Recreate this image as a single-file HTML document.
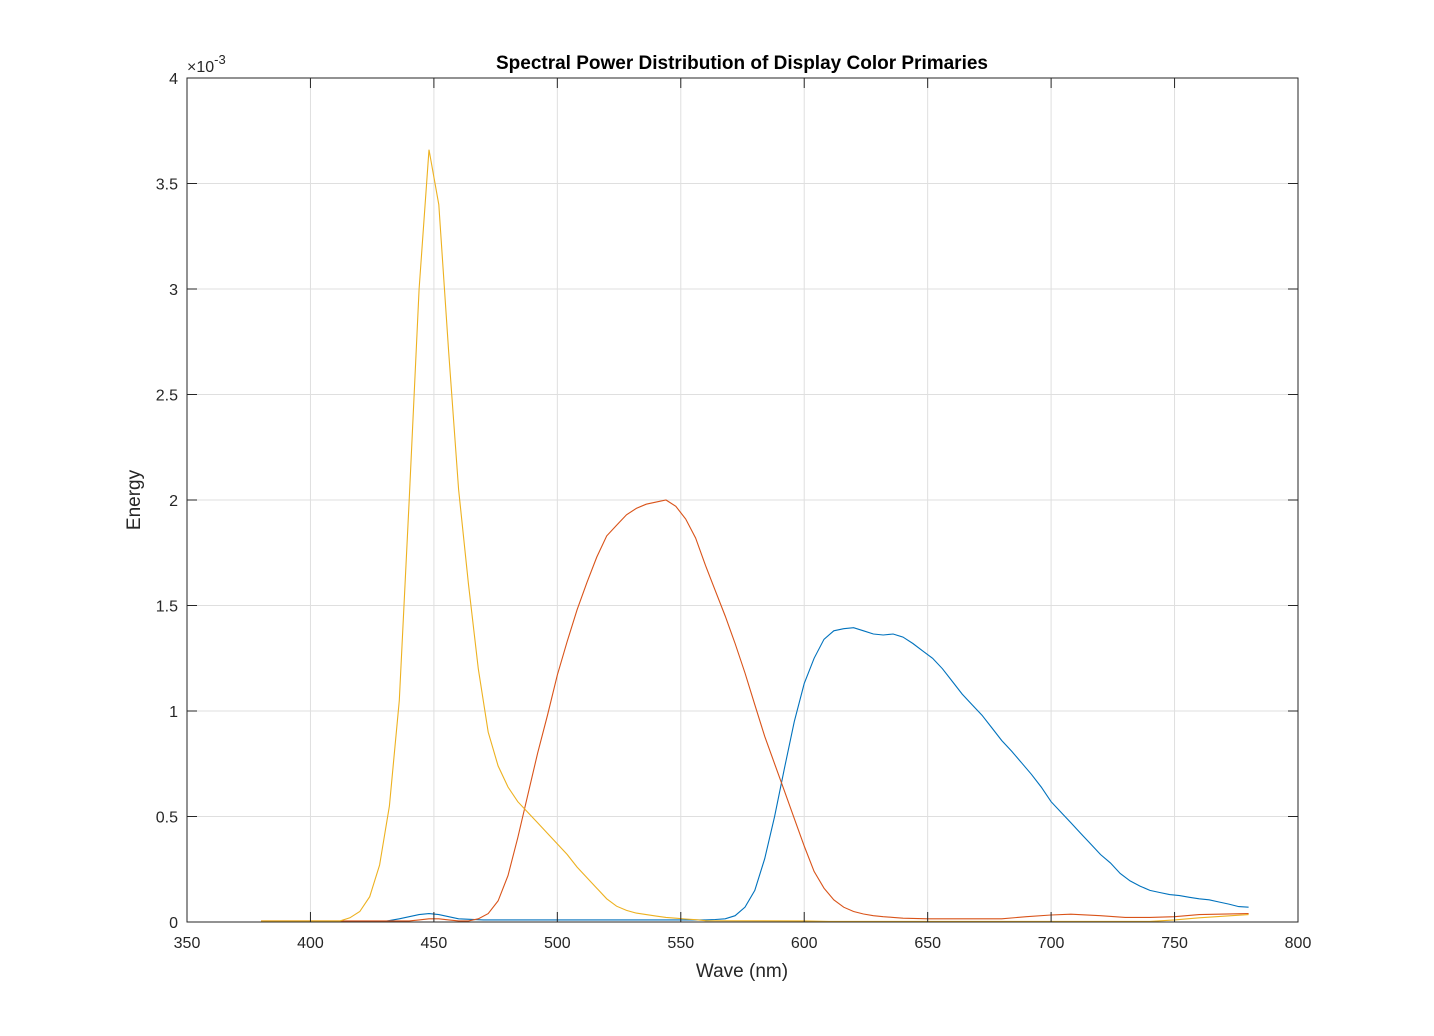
<!DOCTYPE html>
<html><head><meta charset="utf-8"><style>
body{margin:0;background:#fff;}
svg{display:block;font-family:"Liberation Sans",sans-serif;}
</style></head><body>
<svg id="chart" width="1434" height="1036" viewBox="0 0 1434 1036">
<rect x="0" y="0" width="1434" height="1036" fill="#fff"/>
<g id="grid"></g>
<g id="series"></g>
<g id="axes"></g>
<text x="742" y="69" text-anchor="middle" font-size="19" font-weight="bold" fill="#000">Spectral Power Distribution of Display Color Primaries</text>
<text x="742" y="977" text-anchor="middle" font-size="19" fill="#262626">Wave (nm)</text>
<text transform="translate(140,500) rotate(-90)" text-anchor="middle" font-size="19" fill="#262626">Energy</text>
<text x="187" y="72" font-size="16" fill="#262626">×10<tspan dy="-8" font-size="13">-3</tspan></text>
</svg>
<script>
const xTicks=[350,400,450,500,550,600,650,700,750,800];
const yTicks=[0,0.5,1,1.5,2,2.5,3,3.5,4];
const yTickLabels=["0","0.5","1","1.5","2","2.5","3","3.5","4"];
const blueWaves=[380,430,436,440,444,448,452,456,460,470,560,564,568,572,576,580,584,588,592,596,600,604,608,612,616,620,624,628,632,636,640,644,648,652,656,660,664,668,672,676,680,684,688,692,696,700,704,708,712,716,720,724,728,732,736,740,744,748,752,756,760,764,768,772,776,780];
const blueVals=[0.003,0.003,0.015,0.025,0.035,0.04,0.035,0.025,0.015,0.01,0.01,0.012,0.015,0.03,0.07,0.15,0.3,0.5,0.73,0.95,1.13,1.25,1.34,1.38,1.39,1.395,1.38,1.365,1.36,1.365,1.35,1.32,1.285,1.25,1.2,1.14,1.08,1.03,0.98,0.92,0.86,0.81,0.755,0.7,0.64,0.57,0.52,0.47,0.42,0.37,0.32,0.28,0.23,0.195,0.17,0.15,0.14,0.13,0.125,0.117,0.11,0.105,0.095,0.085,0.073,0.07];
const redWaves=[380,440,444,448,452,456,460,464,468,472,476,480,484,488,492,496,500,504,508,512,516,520,524,528,532,536,540,544,548,552,556,560,564,568,572,576,580,584,588,592,596,600,604,608,612,616,620,624,628,632,636,640,650,680,690,700,708,720,730,740,750,760,780];
const redVals=[0.005,0.005,0.01,0.015,0.015,0.01,0.005,0.005,0.015,0.04,0.1,0.22,0.4,0.6,0.8,0.98,1.17,1.33,1.48,1.61,1.73,1.83,1.88,1.93,1.96,1.98,1.99,2.0,1.97,1.91,1.82,1.69,1.57,1.45,1.32,1.18,1.03,0.88,0.75,0.62,0.49,0.36,0.24,0.16,0.105,0.07,0.05,0.038,0.03,0.025,0.022,0.018,0.015,0.015,0.025,0.033,0.037,0.03,0.022,0.022,0.025,0.035,0.04];
const yellowWaves=[380,412,416,420,424,428,432,436,440,444,448,452,456,460,464,468,472,476,480,484,488,492,496,500,504,508,512,516,520,524,528,532,536,540,544,548,552,556,560,600,610,740,750,760,780];
const yellowVals=[0.005,0.005,0.02,0.05,0.12,0.27,0.55,1.05,2.0,3.0,3.66,3.4,2.7,2.05,1.6,1.2,0.9,0.74,0.64,0.57,0.52,0.47,0.42,0.37,0.32,0.26,0.21,0.16,0.11,0.075,0.055,0.042,0.035,0.028,0.022,0.018,0.014,0.011,0.006,0.005,0.003,0.003,0.01,0.02,0.035];
const X0=187,X1=1298,Y0=922,Y1=78;
const xs=v=>X0+(v-350)/(800-350)*(X1-X0);
const ys=v=>Y0-(v/4)*(Y0-Y1);
const NS="http://www.w3.org/2000/svg";
function mk(tag,attrs,parent){const e=document.createElementNS(NS,tag);for(const k in attrs)e.setAttribute(k,attrs[k]);parent.appendChild(e);return e;}
const grid=document.getElementById('grid'),axes=document.getElementById('axes'),ser=document.getElementById('series');
xTicks.forEach(t=>{
  const g=mk('line',{x1:xs(t),x2:xs(t),y1:Y1,y2:Y0,stroke:'#dfdfdf','stroke-width':1},grid);
  
  
  const a=mk('line',{x1:xs(t),x2:xs(t),y1:Y0,y2:Y0-10,stroke:'#262626','stroke-width':1},axes);
  
  
  const b=mk('line',{x1:xs(t),x2:xs(t),y1:Y1,y2:Y1+10,stroke:'#262626','stroke-width':1},axes);
  
  
  const l=mk('text',{x:xs(t),y:948,'text-anchor':'middle','font-size':16,fill:'#262626'},axes);
  l.textContent=t;
  
  
});
yTicks.forEach((t,i)=>{
  const g=mk('line',{x1:X0,x2:X1,y1:ys(t),y2:ys(t),stroke:'#dfdfdf','stroke-width':1},grid);
  
  
  const a=mk('line',{x1:X0,x2:X0+10,y1:ys(t),y2:ys(t),stroke:'#262626','stroke-width':1},axes);
  
  
  const b=mk('line',{x1:X1,x2:X1-10,y1:ys(t),y2:ys(t),stroke:'#262626','stroke-width':1},axes);
  
  
  const l=mk('text',{x:X0-9,y:ys(t)+6,'text-anchor':'end','font-size':16,fill:'#262626'},axes);
  l.textContent=yTickLabels[i];
  
  
});
const box=mk('rect',{x:X0,y:Y1,width:X1-X0,height:Y0-Y1,fill:'none',stroke:'#262626','stroke-width':1},axes);


function line(w,v,color,name){
  const p=mk('polyline',{points:w.map((x,i)=>xs(x).toFixed(1)+','+ys(v[i]).toFixed(1)).join(' '),fill:'none',stroke:color,'stroke-width':1.1},ser);
  
  
}
line(blueWaves,blueVals,'#0072BD','red-primary-line');
line(redWaves,redVals,'#D95319','green-primary-line');
line(yellowWaves,yellowVals,'#EDB120','blue-primary-line');
</script>
</body></html>
